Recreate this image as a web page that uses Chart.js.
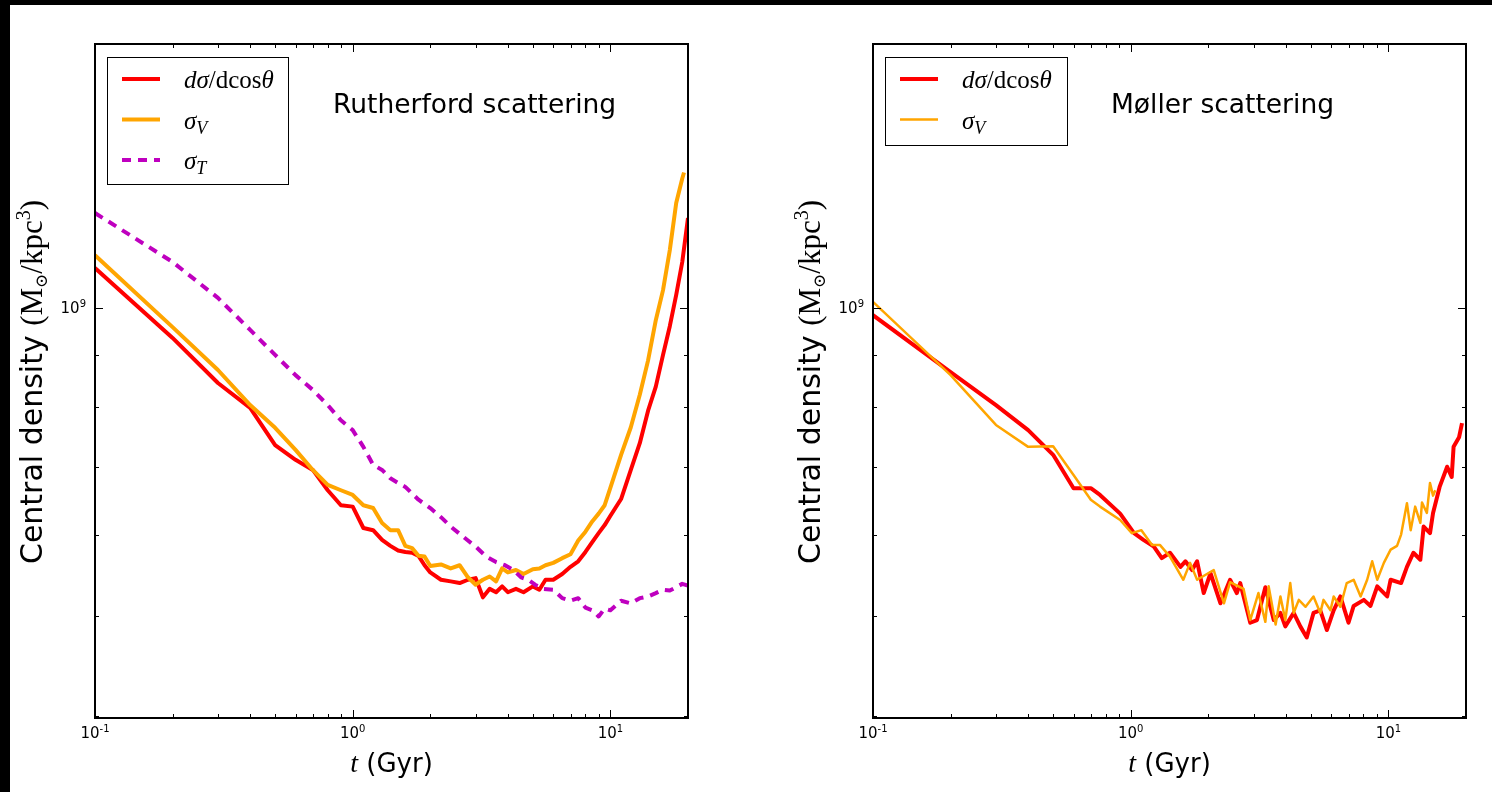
<!DOCTYPE html>
<html>
<head>
<meta charset="utf-8">
<script src="https://cdn.jsdelivr.net/npm/chart.js@4"></script>
<style>
body { margin:0; background:#fff; width:1492px; height:792px; overflow:hidden; position:relative; }
.panel { position:absolute; top:0; width:746px; height:792px; }
#barTop { position:absolute; left:0; top:0; width:1492px; height:5px; background:#000; }
#barLeft { position:absolute; left:0; top:0; width:10px; height:792px; background:#000; }
</style>
</head>
<body>
<div class="panel" style="left:0"><canvas id="rutherford"></canvas></div>
<div class="panel" style="left:746px"><canvas id="moller"></canvas></div>
<div id="barTop"></div><div id="barLeft"></div>
<script>
// axis ranges and ticks
const tMin = 0.1, tMax = 20;
const rhoMin = 3.98e8, rhoMax = 1.81e9;
const xMajor = [0.1, 1, 10];
const xExp = ['-1', '0', '1'];
const xMinor = [0.2, 0.3, 0.4, 0.5, 0.6, 0.7, 0.8, 0.9, 2, 3, 4, 5, 6, 7, 8, 9];
const yMajor = [1e9];
const yExp = ['9'];
const yMinor = [4e8, 5e8, 6e8, 7e8, 8e8, 9e8];

// Rutherford scattering (densities in units of 1e8 Msun/kpc^3)
const rutherDiffT = [0.1,0.2,0.3,0.4,0.5,0.6,0.7,0.8,0.9,1.0,1.1,1.2,1.3,1.4,1.5,1.6,1.7,1.8,1.9,2.0,2.2,2.4,2.6,2.8,3.0,3.2,3.4,3.6,3.8,4.0,4.3,4.6,5.0,5.3,5.6,6.0,6.5,7.0,7.5,8.0,8.5,9.0,9.5,10,11,12,13,14,15,16,17,18,19,20];
const rutherDiffRho = [10.94,9.35,8.45,7.99,7.35,7.11,6.95,6.64,6.42,6.40,6.10,6.07,5.94,5.86,5.80,5.78,5.77,5.73,5.61,5.52,5.43,5.41,5.39,5.43,5.45,5.22,5.32,5.28,5.35,5.28,5.32,5.28,5.35,5.31,5.43,5.43,5.50,5.59,5.66,5.78,5.91,6.03,6.14,6.27,6.51,6.95,7.38,7.94,8.38,9.00,9.60,10.30,11.09,12.24];
const rutherSigVT = [0.1,0.2,0.3,0.4,0.5,0.6,0.7,0.8,0.9,1.0,1.1,1.2,1.3,1.4,1.5,1.6,1.7,1.8,1.9,2.0,2.2,2.4,2.6,2.8,3.0,3.2,3.4,3.6,3.8,4.0,4.3,4.6,5.0,5.3,5.6,6.0,6.5,7.0,7.5,8.0,8.5,9.0,9.5,10,11,12,13,14,15,16,17,18,19,19.3];
const rutherSigVRho = [11.26,9.58,8.70,8.04,7.64,7.27,6.95,6.72,6.64,6.57,6.42,6.38,6.17,6.07,6.07,5.86,5.83,5.73,5.72,5.60,5.62,5.57,5.61,5.46,5.37,5.43,5.47,5.41,5.57,5.52,5.55,5.50,5.56,5.57,5.61,5.64,5.70,5.75,5.93,6.05,6.19,6.30,6.42,6.68,7.19,7.65,8.23,8.89,9.73,10.41,11.39,12.66,13.38,13.56];
const rutherSigTT = [0.1,0.2,0.3,0.4,0.5,0.6,0.7,0.8,0.9,1.0,1.1,1.2,1.3,1.4,1.5,1.6,1.8,2.0,2.2,2.4,2.6,2.8,3.0,3.3,3.6,3.9,4.2,4.5,4.8,5.1,5.5,6.0,6.5,7.0,7.5,8.0,8.5,9.0,9.5,10,11,12,13,14,15,16,17,18,19,20];
const rutherSigTRho = [12.38,11.09,10.23,9.52,9.00,8.60,8.32,8.04,7.77,7.60,7.32,7.03,6.95,6.82,6.75,6.69,6.50,6.38,6.25,6.12,6.02,5.93,5.85,5.72,5.65,5.61,5.55,5.46,5.43,5.37,5.32,5.31,5.21,5.18,5.21,5.10,5.07,5.00,5.09,5.07,5.18,5.15,5.21,5.23,5.27,5.31,5.30,5.34,5.38,5.36];

// Moller scattering
const mollerDiffT = [0.1,0.2,0.3,0.4,0.5,0.6,0.7,0.76,0.91,1.03,1.12,1.23,1.32,1.42,1.56,1.63,1.73,1.81,1.92,2.04,2.23,2.43,2.58,2.66,2.91,3.09,3.33,3.59,3.81,3.98,4.29,4.55,4.82,5.12,5.44,5.77,6.13,6.51,7.0,7.33,8.03,8.52,9.05,9.89,10.2,11.2,11.8,12.5,13.3,13.7,14.5,14.9,15.8,16.9,17.6,17.9,18.8,19.3];
const mollerDiffRho = [9.84,8.66,8.04,7.60,7.19,6.67,6.67,6.57,6.30,6.03,5.94,5.85,5.70,5.77,5.59,5.66,5.55,5.66,5.27,5.51,5.15,5.43,5.27,5.39,4.93,4.96,5.34,4.96,5.04,4.89,5.04,4.89,4.77,5.04,5.07,4.85,5.07,5.23,4.93,5.12,5.19,5.12,5.35,5.23,5.43,5.39,5.59,5.77,5.68,6.12,6.03,6.31,6.69,7.00,6.84,7.32,7.48,7.72];
const mollerSigVT = [0.1,0.2,0.3,0.4,0.5,0.6,0.7,0.76,0.91,1.01,1.1,1.21,1.30,1.42,1.6,1.70,1.81,2.10,2.30,2.43,2.74,2.91,3.13,3.33,3.43,3.65,3.81,3.98,4.16,4.29,4.49,4.77,5.12,5.44,5.6,5.96,6.13,6.51,6.89,7.33,7.8,8.27,8.65,9.05,9.6,10.2,10.8,11.2,11.8,12.2,12.7,13.3,13.5,14.1,14.5,14.9,15.2];
const mollerSigVRho = [10.14,8.60,7.69,7.32,7.33,6.87,6.50,6.40,6.21,6.03,6.07,5.87,5.87,5.72,5.43,5.64,5.43,5.55,5.15,5.40,5.32,4.96,5.27,4.94,5.35,4.91,5.23,4.96,5.39,5.04,5.19,5.11,5.23,5.04,5.19,5.07,5.23,5.11,5.39,5.43,5.23,5.43,5.66,5.43,5.64,5.81,5.86,6.01,6.45,6.07,6.40,6.17,6.46,6.31,6.75,6.56,6.64];

const RED = '#ff0000', ORANGE = '#ffa500', MAGENTA = '#bf00bf';
const SANS = '"DejaVu Sans"', SERIF = '"Liberation Serif"';

const pts = (ts, rs) => ts.map((t, i) => ({ x: t, y: rs[i] * 1e8 }));

function runsWidth(ctx, runs) {
    let w = 0;
    runs.forEach(r => { ctx.font = r.font; w += ctx.measureText(r.text).width; });
    return w;
}

function drawRuns(ctx, runs, x, y, align) {
    const w = runsWidth(ctx, runs);
    let cx = align === 'center' ? x - w / 2 : align === 'right' ? x - w : x;
    runs.forEach(r => {
        ctx.font = r.font;
        ctx.fillText(r.text, cx, y + (r.dy || 0));
        cx += ctx.measureText(r.text).width;
    });
}

const powerRuns = e => [
    { text: '10', font: `15px ${SANS}` },
    { text: e, font: `10px ${SANS}`, dy: -6 }
];

const legendRuns = {
    diff: [
        { text: 'd', font: `italic 25px ${SERIF}` },
        { text: 'σ', font: `italic 25px ${SERIF}` },
        { text: '/dcos', font: `25px ${SERIF}` },
        { text: 'θ', font: `italic 25px ${SERIF}` }
    ],
    sigV: [
        { text: 'σ', font: `italic 25px ${SERIF}` },
        { text: 'V', font: `italic 18px ${SERIF}`, dy: 5 }
    ],
    sigT: [
        { text: 'σ', font: `italic 25px ${SERIF}` },
        { text: 'T', font: `italic 18px ${SERIF}`, dy: 5 }
    ]
};

// frame, inward ticks, tick labels, legend, titles
const decorations = {
    id: 'decorations',
    afterDatasetsDraw(chart, args, opts) {
        const { ctx, chartArea: a, scales: { x, y } } = chart;
        ctx.save();
        ctx.strokeStyle = '#000';
        ctx.lineWidth = 1;
        ctx.beginPath();
        const xt = (v, len) => {
            const px = Math.round(x.getPixelForValue(v)) + 0.5;
            ctx.moveTo(px, a.bottom); ctx.lineTo(px, a.bottom - len);
            ctx.moveTo(px, a.top); ctx.lineTo(px, a.top + len);
        };
        const yt = (v, len) => {
            const py = Math.round(y.getPixelForValue(v)) + 0.5;
            ctx.moveTo(a.left, py); ctx.lineTo(a.left + len, py);
            ctx.moveTo(a.right, py); ctx.lineTo(a.right - len, py);
        };
        xMajor.forEach(v => xt(v, 8));
        xMinor.forEach(v => xt(v, 4));
        yMajor.forEach(v => yt(v, 8));
        yMinor.forEach(v => yt(v, 4));
        ctx.stroke();

        ctx.lineWidth = 2;
        ctx.strokeRect(a.left, a.top, a.right - a.left, a.bottom - a.top);

        // tick labels
        ctx.fillStyle = '#000';
        ctx.textAlign = 'left';
        ctx.textBaseline = 'alphabetic';
        xMajor.forEach((v, i) => drawRuns(ctx, powerRuns(xExp[i]), x.getPixelForValue(v), a.bottom + 20, 'center'));
        yMajor.forEach((v, i) => drawRuns(ctx, powerRuns(yExp[i]), a.left - 9, y.getPixelForValue(v) + 5, 'right'));

        // legend
        const bx = a.left + 12, by = a.top + 13;
        ctx.fillStyle = '#fff';
        ctx.fillRect(bx, by, opts.boxW, opts.boxH);
        ctx.lineWidth = 1;
        ctx.strokeStyle = '#000';
        ctx.strokeRect(bx + 0.5, by + 0.5, opts.boxW, opts.boxH);
        chart.data.datasets.forEach((ds, i) => {
            const ry = by + 22 + i * 40.5;
            ctx.beginPath();
            ctx.strokeStyle = ds.borderColor;
            ctx.lineWidth = ds.borderWidth;
            ctx.setLineDash(ds.borderDash || []);
            ctx.moveTo(bx + 15, ry); ctx.lineTo(bx + 53, ry);
            ctx.stroke();
            ctx.setLineDash([]);
            ctx.fillStyle = '#000';
            drawRuns(ctx, legendRuns[ds.key], bx + 77, ry + 9, 'left');
        });

        // panel annotation
        ctx.fillStyle = '#000';
        ctx.font = `26.5px ${SANS}`;
        ctx.fillText(opts.note, a.left + 238, a.top + 69);

        // x title
        drawRuns(ctx, [
            { text: 't', font: `italic 28px ${SERIF}` },
            { text: ' (Gyr)', font: `26px ${SANS}` }
        ], (a.left + a.right) / 2, 772, 'center');

        // y title
        ctx.translate(a.left - 53, (a.top + a.bottom) / 2 + 1);
        ctx.rotate(-Math.PI / 2);
        drawRuns(ctx, [
            { text: 'Central density ', font: `30px ${SANS}` },
            { text: '(M', font: `31px ${SERIF}` },
            { text: '⊙', font: `17px "DejaVu Serif"`, dy: 5 },
            { text: '/kpc', font: `31px ${SERIF}` },
            { text: '3', font: `20px ${SERIF}`, dy: -12 },
            { text: ')', font: `31px ${SERIF}` }
        ], 0, 0, 'center');
        ctx.restore();
    }
};

Chart.defaults.font.family = SANS;
Chart.defaults.color = '#000';

function makePanel(id, datasets, axisLeft, padRight, boxW, boxH, note) {
    return new Chart(document.getElementById(id), {
        type: 'line',
        data: { datasets: datasets },
        options: {
            responsive: true,
            maintainAspectRatio: false,
            animation: false,
            events: [],
            layout: { padding: { left: 0, top: 44, right: padRight, bottom: 44 } },
            elements: { point: { radius: 0 }, line: { tension: 0, borderJoinStyle: 'round', borderCapStyle: 'butt' } },
            scales: {
                x: {
                    type: 'logarithmic', min: tMin, max: tMax,
                    grid: { display: false }, border: { display: false },
                    afterBuildTicks: s => { s.ticks = xMajor.map(v => ({ value: v })); },
                    afterFit: s => { s.height = 30; },
                    ticks: { display: false }
                },
                y: {
                    type: 'logarithmic', min: rhoMin, max: rhoMax,
                    grid: { display: false }, border: { display: false },
                    afterBuildTicks: s => { s.ticks = yMajor.map(v => ({ value: v })); },
                    afterFit: s => { s.width = axisLeft; },
                    ticks: { display: false }
                }
            },
            plugins: {
                legend: { display: false },
                tooltip: { enabled: false },
                decorations: { boxW: boxW, boxH: boxH, note: note }
            }
        },
        plugins: [decorations]
    });
}

makePanel('rutherford', [
    { key: 'diff', data: pts(rutherDiffT, rutherDiffRho), borderColor: RED, borderWidth: 4, order: 3 },
    { key: 'sigV', data: pts(rutherSigVT, rutherSigVRho), borderColor: ORANGE, borderWidth: 4, order: 2 },
    { key: 'sigT', data: pts(rutherSigTT, rutherSigTRho), borderColor: MAGENTA, borderWidth: 4, borderDash: [9, 7], order: 1 }
], 95, 58, 181, 127, 'Rutherford scattering');

makePanel('moller', [
    { key: 'diff', data: pts(mollerDiffT, mollerDiffRho), borderColor: RED, borderWidth: 4, order: 2 },
    { key: 'sigV', data: pts(mollerSigVT, mollerSigVRho), borderColor: ORANGE, borderWidth: 2.5, order: 1 }
], 127, 26, 182, 88, 'Møller scattering');
</script>
</body>
</html>
